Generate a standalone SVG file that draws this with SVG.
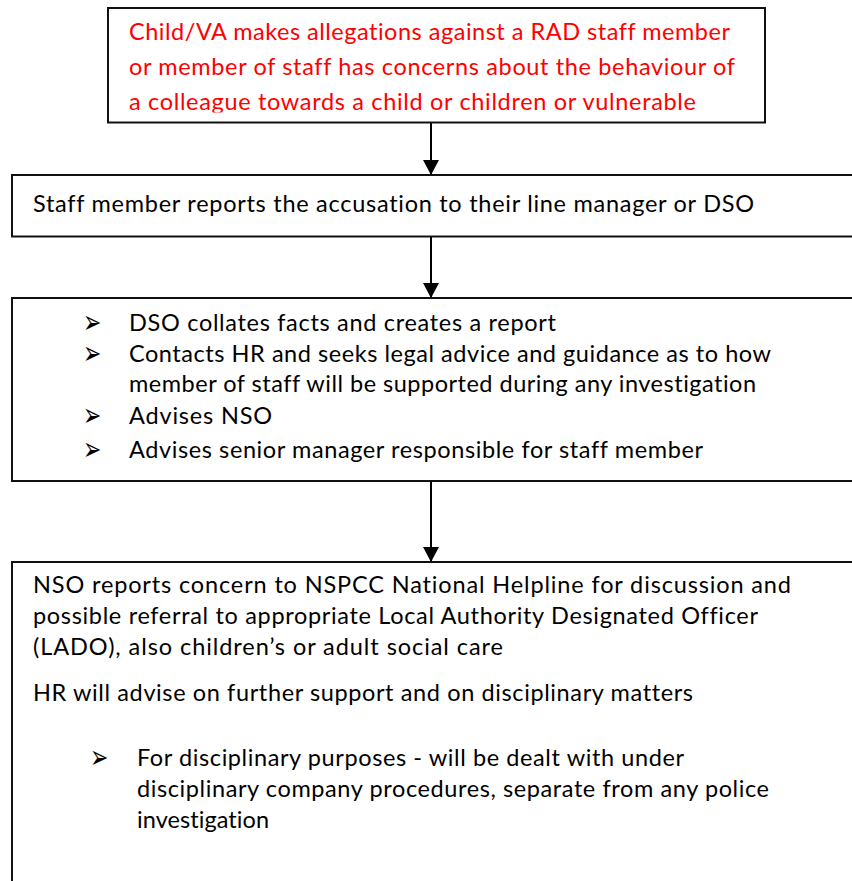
<svg xmlns="http://www.w3.org/2000/svg" width="852" height="881" viewBox="0 0 852 881">
  <style>
    .box { fill: #ffffff; stroke: #111111; stroke-width: 2; }
    .txt { font-family: Lato, "Open Sans", "Liberation Sans", sans-serif; font-size: 23.5px; fill: #000000; font-variant-ligatures: none; }
    .red { fill: #ff0000; }
    .bul { font-family: "DejaVu Sans", sans-serif; font-size: 28px; fill: #000000; }
    .conn { stroke: #000000; stroke-width: 2; fill: none; }
  </style>
  <defs>
    <marker id="arrowhead" markerUnits="userSpaceOnUse" markerWidth="16" markerHeight="16" refX="15" refY="8" orient="auto">
      <path d="M0,0 L15,8 L0,16 Z" fill="#000000"/>
    </marker>
    <clipPath id="clip-start">
      <rect x="108" y="8" width="657" height="104.5"/>
    </clipPath>
    <!-- list bullet, narrowed and stretched to a squarer arrowhead -->
    <text id="bullet" class="bul" x="0" y="0" transform="scale(0.78,1.15)">➢</text>
  </defs>

  <rect width="852" height="881" fill="#ffffff"/>

  <!-- Start: the allegation or concern (red) -->
  <g id="node-allegation">
    <rect class="box" x="108" y="8" width="657" height="114.5"/>
    <g clip-path="url(#clip-start)">
      <text class="txt red" x="129" y="40" textLength="601">Child/VA makes allegations against a RAD staff member</text>
      <text class="txt red" x="129" y="75" textLength="606">or member of staff has concerns about the behaviour of</text>
      <text class="txt red" x="129" y="110" textLength="567">a colleague towards a child or children or vulnerable</text>
    </g>
  </g>

  <!-- Step 2: report to line manager / DSO -->
  <g id="node-report">
    <rect class="box" x="12" y="175" width="900" height="61.5"/>
    <text class="txt" x="33" y="212" textLength="721">Staff member reports the accusation to their line manager or DSO</text>
  </g>

  <!-- Step 3: DSO actions -->
  <g id="node-dso">
    <rect class="box" x="12" y="298" width="900" height="183"/>
    <use href="#bullet" x="83" y="333"/>
    <text class="txt" x="129" y="331" textLength="427">DSO collates facts and creates a report</text>
    <use href="#bullet" x="83" y="364"/>
    <text class="txt" x="129" y="362" textLength="642">Contacts HR and seeks legal advice and guidance as to how</text>
    <text class="txt" x="129" y="392" textLength="627">member of staff will be supported during any investigation</text>
    <use href="#bullet" x="83" y="426"/>
    <text class="txt" x="129" y="424" textLength="143">Advises NSO</text>
    <use href="#bullet" x="83" y="460"/>
    <text class="txt" x="129" y="458" textLength="574">Advises senior manager responsible for staff member</text>
  </g>

  <!-- Step 4: NSO referral and HR -->
  <g id="node-nso">
    <rect class="box" x="12" y="562" width="900" height="340"/>
    <text class="txt" x="33" y="593" textLength="758">NSO reports concern to NSPCC National Helpline for discussion and</text>
    <text class="txt" x="33" y="624" textLength="725">possible referral to appropriate Local Authority Designated Officer</text>
    <text class="txt" x="33" y="655" textLength="470">(LADO), also children’s or adult social care</text>
    <text class="txt" x="33" y="701" textLength="660">HR will advise on further support and on disciplinary matters</text>
    <use href="#bullet" x="90" y="768"/>
    <text class="txt" x="137" y="766" textLength="547">For disciplinary purposes - will be dealt with under</text>
    <text class="txt" x="137" y="797" textLength="632">disciplinary company procedures, separate from any police</text>
    <text class="txt" x="137" y="828" textLength="132">investigation</text>
  </g>

  <!-- Connectors -->
  <g id="connectors">
    <line class="conn" x1="431" y1="123" x2="431" y2="175" marker-end="url(#arrowhead)"/>
    <line class="conn" x1="431" y1="237" x2="431" y2="298" marker-end="url(#arrowhead)"/>
    <line class="conn" x1="431" y1="481" x2="431" y2="562" marker-end="url(#arrowhead)"/>
  </g>
</svg>
